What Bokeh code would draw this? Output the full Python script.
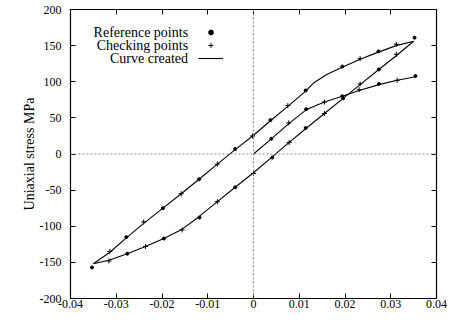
from bokeh.plotting import figure
from bokeh.models import Range1d, FixedTicker, LinearAxis, Span, Label, Legend, LegendItem
from bokeh.embed import file_html
from bokeh.resources import INLINE

# ---------------- data ----------------
x_ticks = [-0.04, -0.03, -0.02, -0.01, 0.0, 0.01, 0.02, 0.03, 0.04]
x_tick_labels = ["-0.04", "-0.03", "-0.02", "-0.01", "0", "0.01", "0.02", "0.03", "0.04"]
y_ticks = [-200, -150, -100, -50, 0, 50, 100, 150, 200]
y_tick_labels = ["-200", "-150", "-100", "-50", "0", "50", "100", "150", "200"]

legend_labels = ["Reference points", "Checking points", "Curve created"]
y_label = "Uniaxial stress MPa"

# curve created: initial loading
init_x = [0.0, 0.0039, 0.0077, 0.0115, 0.0125, 0.0155, 0.0194, 0.0231, 0.0274, 0.0314, 0.0354]
init_y = [0, 21, 42, 61, 64, 72, 80, 88, 96, 102, 107]
# curve created: upper (reloading) branch
up_x = [-0.0350, -0.0314, -0.0278, -0.0240, -0.0198, -0.0158, -0.0119, -0.0079, -0.0040, 0.0,
        0.0037, 0.0075, 0.0114, 0.0133, 0.0160, 0.0194, 0.0233, 0.0273, 0.0312, 0.0350]
up_y = [-152, -136, -116, -96, -75, -55, -35, -14, 6, 26,
        46, 66, 87, 99, 110, 120, 131, 141, 150, 156]
# curve created: lower (unloading) branch
low_x = [0.0350, 0.0312, 0.0274, 0.0233, 0.0196, 0.0155, 0.0114, 0.0078, 0.0041, 0.0,
         -0.0040, -0.0079, -0.0118, -0.0130, -0.0156, -0.0196, -0.0236, -0.0276, -0.0316, -0.0350]
low_y = [156, 136, 117, 96, 77, 56, 35, 16, -4, -26,
         -46, -66, -86, -92, -104, -117, -128, -138, -147, -152]

# reference points
ref_x = [0.0039, 0.0115, 0.0194, 0.0274, 0.0354,
         -0.0278, -0.0198, -0.0119, -0.0040, 0.0037, 0.0114, 0.0194, 0.0273, 0.0352,
         -0.0353, -0.0276, -0.0196, -0.0118, -0.0040, 0.0041, 0.0114, 0.0196, 0.0274]
ref_y = [21, 62, 80, 97, 108,
         -115, -75, -35, 7, 47, 88, 121, 142, 161,
         -157, -138, -117, -88, -46, -5, 36, 77, 117]
# checking points
chk_x = [0.0077, 0.0155, 0.0231, 0.0314,
         -0.0314, -0.0240, -0.0158, -0.0079, -0.0002, 0.0075, 0.0233, 0.0312,
         -0.0316, -0.0236, -0.0156, -0.0079, 0.0, 0.0078, 0.0155, 0.0233, 0.0312]
chk_y = [43, 72, 89, 102,
         -135, -94, -55, -14, 25, 67, 132, 152,
         -148, -128, -105, -66, -27, 16, 56, 97, 138]

FONT = "Liberation Serif"

p = figure(width=447, height=313, output_backend="svg", toolbar_location=None,
           x_range=Range1d(-0.04, 0.04), y_range=Range1d(-200, 200),
           min_border_left=70, min_border_right=11, min_border_top=9, min_border_bottom=15,
           background_fill_color="white", border_fill_color="white")
p.grid.visible = False
p.outline_line_color = "black"
p.outline_line_width = 1.2

for ax in (p.xaxis[0], p.yaxis[0]):
    ax.major_tick_in = 5
    ax.major_tick_out = 0
    ax.minor_tick_line_color = None
    ax.axis_line_color = "black"
    ax.major_tick_line_color = "black"
    ax.major_label_text_font = FONT
    ax.major_label_text_font_size = "12px"
    ax.major_label_text_color = "black"

p.xaxis.ticker = FixedTicker(ticks=x_ticks)
p.xaxis.major_label_overrides = dict(zip(x_ticks, x_tick_labels))
p.xaxis.major_label_standoff = 1
p.yaxis.ticker = FixedTicker(ticks=y_ticks)
p.yaxis.major_label_overrides = dict(zip(y_ticks, y_tick_labels))
p.yaxis.major_label_standoff = 9
p.yaxis.axis_label = y_label
p.yaxis.axis_label_text_font = FONT
p.yaxis.axis_label_text_font_size = "14px"
p.yaxis.axis_label_text_font_style = "normal"
p.yaxis.axis_label_text_color = "black"
p.yaxis.axis_label_standoff = 0

top_ax = LinearAxis(ticker=FixedTicker(ticks=x_ticks), major_label_text_color=None,
                    major_label_text_font_size="1px",
                    major_label_standoff=0, major_tick_in=5, major_tick_out=0,
                    minor_tick_line_color=None, axis_line_color=None)
right_ax = LinearAxis(ticker=FixedTicker(ticks=y_ticks), major_label_text_color=None,
                      major_label_text_font_size="1px",
                      major_label_standoff=0, major_tick_in=5, major_tick_out=0,
                      minor_tick_line_color=None, axis_line_color=None)
p.add_layout(top_ax, "above")
p.add_layout(right_ax, "right")

p.add_layout(Span(location=0, dimension="height", line_color="#8a8a8a", line_width=1, line_dash="2 2"))
p.add_layout(Span(location=0, dimension="width", line_color="#8a8a8a", line_width=1, line_dash="2 2"))

r_init = p.line(init_x, init_y, line_color="black", line_width=1.1)
r_up = p.line(up_x, up_y, line_color="black", line_width=1.1)
r_low = p.line(low_x, low_y, line_color="black", line_width=1.1)
r_ref = p.scatter(ref_x, ref_y, marker="circle", size=3, color="black")
r_chk = p.scatter(chk_x, chk_y, marker="cross", size=5, line_color="black", line_width=1)

legend = Legend(items=[LegendItem(label=" ", renderers=[r_ref]),
                       LegendItem(label=" ", renderers=[r_chk]),
                       LegendItem(label=" ", renderers=[r_up])],
                location=(128, 234), glyph_width=25, glyph_height=12, label_height=12,
                label_standoff=0, spacing=1, padding=0, margin=0,
                border_line_color=None, background_fill_alpha=0, label_text_font_size="1px")
p.add_layout(legend)

for txt, yv in zip(legend_labels, [168.2, 150.2, 132.2]):
    p.add_layout(Label(x=-0.0143, y=yv, text=txt, text_align="right", text_baseline="middle",
                       text_font=FONT, text_font_size="14px", text_color="black"))

open("out.html", "w").write(file_html(p, INLINE))
